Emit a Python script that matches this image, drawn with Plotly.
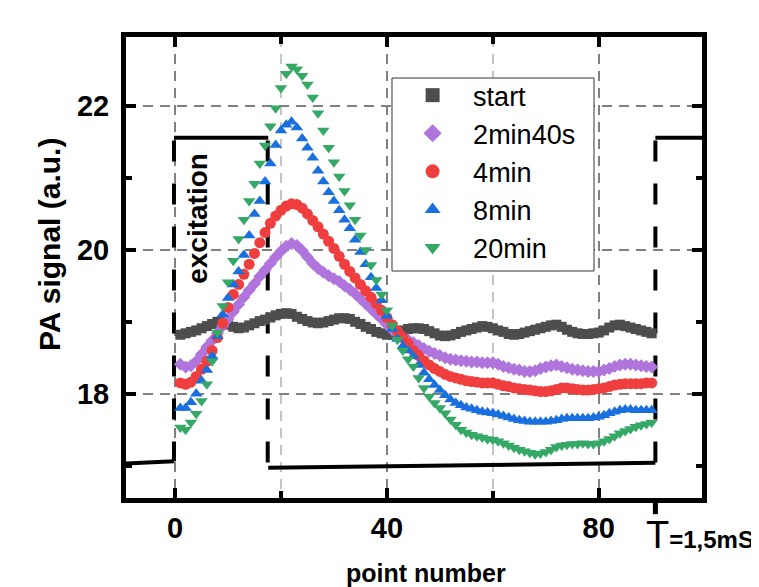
import plotly.graph_objects as go

point_x = list(range(1, 91))

start_y = [18.82, 18.84, 18.86, 18.88, 18.91, 18.94, 18.97, 19.00, 19.00, 18.96,
           18.93, 18.91, 18.92, 18.95, 18.98, 19.01, 19.03, 19.06, 19.09, 19.11,
           19.12, 19.11, 19.07, 19.04, 19.01, 18.99, 18.98, 18.99, 19.01, 19.03,
           19.05, 19.05, 19.04, 19.00, 18.97, 18.93, 18.90, 18.86, 18.84, 18.82,
           18.82, 18.85, 18.88, 18.90, 18.91, 18.91, 18.90, 18.87, 18.84, 18.81,
           18.80, 18.81, 18.83, 18.86, 18.88, 18.90, 18.92, 18.94, 18.93, 18.91,
           18.88, 18.86, 18.83, 18.82, 18.83, 18.85, 18.87, 18.89, 18.91, 18.93,
           18.95, 18.96, 18.93, 18.89, 18.86, 18.84, 18.83, 18.83, 18.84, 18.85,
           18.88, 18.92, 18.95, 18.96, 18.94, 18.92, 18.90, 18.88, 18.86, 18.84]

min2s40_y = [18.41, 18.37, 18.39, 18.45, 18.55, 18.65, 18.74, 18.84, 18.94, 19.04,
             19.14, 19.24, 19.34, 19.44, 19.53, 19.63, 19.72, 19.81, 19.90, 19.98,
             20.05, 20.09, 20.06, 19.99, 19.90, 19.81, 19.74, 19.69, 19.64, 19.60,
             19.56, 19.50, 19.45, 19.39, 19.32, 19.25, 19.18, 19.11, 19.04, 18.96,
             18.89, 18.84, 18.79, 18.75, 18.71, 18.67, 18.63, 18.59, 18.56, 18.53,
             18.50, 18.48, 18.47, 18.46, 18.45, 18.44, 18.44, 18.43, 18.43, 18.43,
             18.41, 18.38, 18.36, 18.34, 18.33, 18.31, 18.31, 18.32, 18.35, 18.37,
             18.39, 18.40, 18.38, 18.36, 18.34, 18.33, 18.32, 18.31, 18.31, 18.31,
             18.33, 18.35, 18.38, 18.40, 18.41, 18.41, 18.40, 18.39, 18.38, 18.37]

min4_y = [18.15, 18.13, 18.16, 18.24, 18.34, 18.45, 18.60, 18.78, 18.98, 19.20,
          19.38, 19.52, 19.66, 19.80, 19.95, 20.10, 20.24, 20.37, 20.47, 20.55,
          20.61, 20.64, 20.63, 20.58, 20.50, 20.41, 20.32, 20.22, 20.12, 20.02,
          19.91, 19.80, 19.70, 19.61, 19.52, 19.43, 19.34, 19.25, 19.16, 19.06,
          18.96, 18.87, 18.78, 18.70, 18.60, 18.53, 18.46, 18.40, 18.35, 18.31,
          18.27, 18.24, 18.22, 18.20, 18.18, 18.17, 18.16, 18.15, 18.15, 18.15,
          18.13, 18.11, 18.10, 18.08, 18.07, 18.06, 18.05, 18.04, 18.03, 18.03,
          18.04, 18.06, 18.08, 18.08, 18.07, 18.06, 18.05, 18.05, 18.06, 18.07,
          18.08, 18.10, 18.12, 18.13, 18.14, 18.14, 18.14, 18.14, 18.15, 18.15]

min8_y = [17.80, 17.80, 17.88, 18.00, 18.18, 18.33, 18.52, 18.80, 19.10, 19.33,
          19.52, 19.70, 19.93, 20.20, 20.50, 20.68, 20.95, 21.20, 21.46, 21.66,
          21.74, 21.78, 21.70, 21.55, 21.42, 21.28, 21.10, 20.95, 20.80, 20.68,
          20.55, 20.42, 20.30, 20.14, 19.97, 19.80, 19.62, 19.47, 19.30, 19.08,
          18.90, 18.76, 18.66, 18.60, 18.52, 18.40, 18.29, 18.20, 18.12, 18.05,
          17.98, 17.92, 17.87, 17.84, 17.81, 17.79, 17.77, 17.75, 17.74, 17.73,
          17.71, 17.69, 17.67, 17.65, 17.63, 17.62, 17.61, 17.61, 17.61, 17.61,
          17.62, 17.63, 17.65, 17.66, 17.66, 17.66, 17.66, 17.66, 17.67, 17.68,
          17.70, 17.73, 17.75, 17.77, 17.78, 17.78, 17.77, 17.77, 17.77, 17.77]

min20_y = [17.53, 17.50, 17.60, 17.72, 17.90, 18.13, 18.45, 18.85, 19.22, 19.55,
           19.85, 20.15, 20.42, 20.68, 20.92, 21.20, 21.45, 21.72, 21.97, 22.25,
           22.45, 22.55, 22.51, 22.42, 22.30, 22.12, 21.90, 21.66, 21.42, 21.22,
           21.02, 20.82, 20.62, 20.42, 20.20, 20.00, 19.79, 19.58, 19.38, 19.16,
           18.95, 18.75, 18.60, 18.48, 18.38, 18.22, 18.08, 17.96, 17.87, 17.80,
           17.73, 17.64, 17.57, 17.50, 17.46, 17.43, 17.41, 17.39, 17.37, 17.36,
           17.34, 17.31, 17.28, 17.25, 17.22, 17.20, 17.18, 17.16, 17.17, 17.19,
           17.22, 17.26, 17.28, 17.29, 17.30, 17.30, 17.31, 17.30, 17.30, 17.31,
           17.34, 17.37, 17.41, 17.45, 17.48, 17.51, 17.54, 17.56, 17.58, 17.60]

series_names = ["start", "2min40s", "4min", "8min", "20min"]

# excitation square wave (solid horizontal parts, dashed edges)
exc_solid_x = [-9.3, -0.2, None, -0.2, 17.6, None, 17.6, 90.7, None, 90.7, 99.5]
exc_solid_y = [17.03, 17.06, None, 21.56, 21.56, None, 16.97, 17.04, None, 21.56, 21.56]
exc_dash_x = [-0.2, -0.2, None, 17.5, 17.5, None, 90.7, 90.7]
exc_dash_y = [21.52, 17.06, None, 21.52, 16.97, None, 21.52, 17.04]

x_tick_vals = [0, 40, 80]
y_tick_vals = [18, 20, 22]

FONT = "Arial, Liberation Sans, sans-serif"
colors = ["#4d4d4d", "#b074dd", "#f03e3e", "#1a6fde", "#35a866"]
symbols = ["square", "diamond", "circle", "triangle-up", "triangle-down"]
sizes = [10, 10, 11, 11, 11]
data_y = [start_y, min2s40_y, min4_y, min8_y, min20_y]

fig = go.Figure()

fig.add_trace(go.Scatter(x=exc_solid_x, y=exc_solid_y, mode="lines",
                         line=dict(color="black", width=4), showlegend=False,
                         hoverinfo="skip"))
fig.add_trace(go.Scatter(x=exc_dash_x, y=exc_dash_y, mode="lines",
                         line=dict(color="black", width=4, dash="21px,22px"),
                         showlegend=False, hoverinfo="skip"))

for name, ys, c, s, sz in zip(series_names, data_y, colors, symbols, sizes):
    fig.add_trace(go.Scatter(x=point_x, y=ys, mode="markers", name=name,
                             marker=dict(color=c, symbol=s, size=sz, line=dict(width=0)),
                             showlegend=False))
for name, c, s in zip(series_names, colors, symbols):
    fig.add_trace(go.Scatter(x=[None], y=[None], mode="markers", name=name,
                             marker=dict(color=c, symbol=s, size=14, line=dict(width=0)),
                             showlegend=True))

# page body has an 8px default margin, so the figure is 8px smaller
fig.update_layout(
    width=751, height=579,
    margin=dict(l=118, r=57, t=29, b=89),
    paper_bgcolor="white", plot_bgcolor="white",
    font=dict(family=FONT, color="black"),
    showlegend=True,
    legend=dict(x=0.462, y=0.926, xanchor="left", yanchor="top",
                bgcolor="rgba(0,0,0,0)", borderwidth=0,
                font=dict(family=FONT, size=27, color="black"),
                itemsizing="trace", itemwidth=71),
    xaxis=dict(range=[-9.26, 99.5], tickvals=x_tick_vals, ticktext=[str(v) for v in x_tick_vals],
               ticks="inside", ticklen=10, tickwidth=4, tickcolor="black",
               showline=True, linewidth=5, linecolor="black", mirror="allticks",
               showgrid=True, gridcolor="#808080", griddash="10px,7px", gridwidth=1.5,
               zeroline=False,
               tickfont=dict(family=FONT, size=29, color="black", weight="bold"),
               minor=dict(dtick=20, tick0=0, ticks="inside", ticklen=7, tickwidth=4,
                          tickcolor="black", showgrid=True, gridcolor="#c4c4c4",
                          griddash="10px,7px", gridwidth=1.5)),
    yaxis=dict(range=[16.55, 22.96], tickvals=y_tick_vals, ticktext=[str(v) for v in y_tick_vals],
               ticks="inside", ticklen=10, tickwidth=4, tickcolor="black",
               showline=True, linewidth=5, linecolor="black", mirror="allticks",
               showgrid=True, gridcolor="#808080", griddash="10px,7px", gridwidth=1.5,
               zeroline=False, ticklabelstandoff=6,
               tickfont=dict(family=FONT, size=29, color="black", weight="bold"),
               minor=dict(dtick=1, tick0=0, ticks="inside", ticklen=6, tickwidth=4,
                          tickcolor="black", showgrid=False)),
)

# legend frame (white box with thin border)
fig.add_shape(type="rect", xref="paper", yref="paper", x0=0.4618, x1=0.8125,
              y0=0.4924, y1=0.911, layer="above",
              fillcolor="white", line=dict(color="#333333", width=1))

fig.add_annotation(x=4.25, y=20.44, xref="x", yref="y", text="excitation",
                   textangle=-90, showarrow=False,
                   font=dict(family=FONT, size=28, color="black", weight="bold"))
fig.add_annotation(x=-0.132, y=0.551, xref="paper", yref="paper", text="PA signal (a.u.)",
                   textangle=-90, showarrow=False, xanchor="center", yanchor="middle",
                   font=dict(family=FONT, size=30, color="black", weight="bold"))
fig.add_annotation(x=0.521, y=-0.163, xref="paper", yref="paper", text="point number",
                   showarrow=False, xanchor="center", yanchor="middle",
                   font=dict(family=FONT, size=25, color="black", weight="bold"))
fig.add_annotation(x=90.7, y=-0.03, xref="x", yref="paper",
                   text="<span style='font-size:38px;font-weight:normal'>T</span><b>=1,5mS</b>",
                   showarrow=False, xanchor="left", xshift=-11, yanchor="top",
                   font=dict(family=FONT, size=24, color="black"))
fig.add_shape(type="line", xref="x", yref="paper", x0=90.7, x1=90.7, y0=-0.005, y1=-0.035,
              line=dict(color="black", width=5))

fig.write_html("out.html")
